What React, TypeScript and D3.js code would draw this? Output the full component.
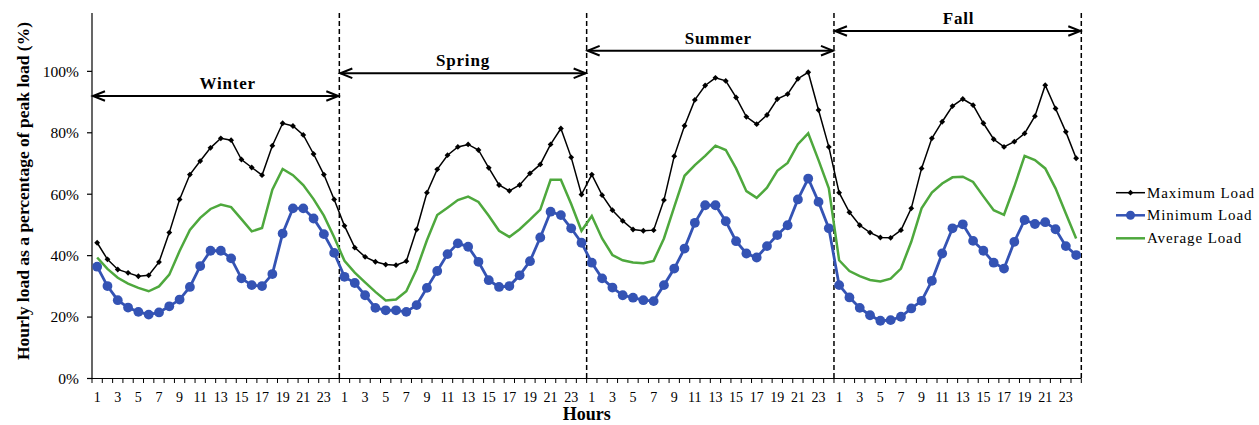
import React from "react";
import * as d3 from "d3";

// Seasons and hour-of-day categories
const SEASONS = ["Winter", "Spring", "Summer", "Fall"];
const HOUR_LABELS = [1, 2, 3, 4, 5, 6, 7, 8, 9, 10, 11, 12, 13, 14, 15, 16, 17, 18, 19, 20, 21, 22, 23, 24];
const Y_TICKS = [0, 20, 40, 60, 80, 100];

// Hourly load as % of peak — maximum
const MAX_WINTER = [44.2, 38.8, 35.5, 34.4, 33.3, 33.6, 37.9, 47.5, 58.3, 66.4, 70.8, 75.1, 78.2, 77.6, 71.3, 68.7, 66.2, 75.8, 83.1, 82.2, 79.3, 73.1, 66.4, 58.3];
const MAX_SPRING = [49.7, 42.6, 39.6, 38.0, 37.1, 36.9, 38.2, 48.5, 60.5, 68.1, 72.7, 75.4, 76.2, 74.4, 68.6, 63.0, 61.1, 63.0, 66.8, 69.7, 76.2, 81.4, 72.0, 59.9];
const MAX_SUMMER = [66.4, 59.7, 54.8, 51.3, 48.5, 48.1, 48.3, 58.1, 72.4, 82.3, 90.7, 95.4, 97.9, 96.9, 91.5, 85.2, 82.8, 85.8, 91.0, 92.6, 97.6, 99.7, 87.4, 75.4];
const MAX_FALL = [60.5, 54.1, 49.9, 47.5, 45.9, 45.8, 48.3, 55.4, 68.4, 78.2, 83.6, 88.7, 91.0, 89.0, 83.1, 77.9, 75.4, 77.1, 79.8, 85.4, 95.5, 87.9, 80.3, 71.7];

// Minimum
const MIN_WINTER = [36.4, 30.1, 25.5, 23.1, 21.7, 20.8, 21.5, 23.5, 25.7, 29.8, 36.6, 41.6, 41.6, 39.1, 32.6, 30.4, 30.1, 34.0, 47.2, 55.4, 55.4, 52.1, 47.0, 40.9];
const MIN_SPRING = [33.1, 31.1, 27.1, 23.0, 22.2, 22.2, 21.7, 23.9, 29.5, 35.0, 40.5, 44.0, 42.9, 38.0, 32.0, 29.8, 30.1, 33.6, 38.2, 45.9, 54.3, 53.2, 48.9, 44.2];
const MIN_SUMMER = [37.7, 32.6, 29.6, 27.1, 26.3, 25.5, 25.2, 30.4, 35.8, 42.3, 50.7, 56.4, 56.4, 51.2, 44.7, 40.7, 39.4, 43.1, 46.7, 49.9, 58.3, 65.1, 57.5, 48.9];
const MIN_FALL = [30.4, 26.4, 23.0, 20.6, 18.8, 19.0, 20.1, 22.8, 25.3, 31.8, 40.7, 48.9, 50.2, 44.8, 41.6, 37.7, 35.8, 44.5, 51.6, 50.3, 50.9, 48.6, 43.1, 40.2];

// Average
const AVG_WINTER = [39.4, 35.7, 32.8, 30.9, 29.5, 28.4, 30.0, 33.8, 41.5, 48.4, 52.3, 55.2, 56.6, 55.8, 51.9, 47.9, 49.0, 61.5, 68.2, 66.2, 63.0, 58.4, 53.0, 46.0];
const AVG_SPRING = [38.3, 34.5, 31.3, 28.2, 25.4, 25.7, 28.4, 35.6, 45.0, 53.2, 55.6, 58.1, 59.2, 57.5, 53.0, 48.1, 46.1, 48.6, 51.7, 55.0, 64.7, 64.7, 56.8, 48.1];
const AVG_SUMMER = [52.9, 45.6, 40.2, 38.5, 37.8, 37.5, 38.3, 45.6, 55.9, 66.0, 69.5, 72.5, 75.8, 74.4, 68.4, 61.0, 58.8, 62.1, 67.6, 70.2, 76.3, 79.8, 71.1, 61.9];
const AVG_FALL = [38.5, 35.0, 33.3, 32.1, 31.6, 32.5, 35.8, 44.5, 55.4, 60.5, 63.5, 65.5, 65.7, 64.0, 59.3, 54.8, 53.3, 62.5, 72.5, 71.1, 68.4, 61.9, 53.7, 45.6];

const MAX_LOAD = [...MAX_WINTER, ...MAX_SPRING, ...MAX_SUMMER, ...MAX_FALL];
const MIN_LOAD = [...MIN_WINTER, ...MIN_SPRING, ...MIN_SUMMER, ...MIN_FALL];
const AVG_LOAD = [...AVG_WINTER, ...AVG_SPRING, ...AVG_SUMMER, ...AVG_FALL];

const W = 1259;
const H = 425;
const LEFT = 92;
const RIGHT = 1081.3;
const TOP = 13;
const BOTTOM = 378.5;

const FONT = "'Times New Roman', 'Liberation Serif', serif";
const BLACK = "#000000";
const BLUE = "#3453B4";
const GREEN = "#4EA83D";

export default function App() {
  const n = SEASONS.length * HOUR_LABELS.length;
  const idx = d3.range(n);
  const x = d3.scaleBand<number>().domain(idx).range([LEFT, RIGHT]).padding(0);
  const bw = x.bandwidth();
  const cx = (i: number) => (x(i) as number) + bw / 2;
  const y = d3.scaleLinear().domain([0, 119]).range([BOTTOM, TOP]);

  const line = d3
    .line<number>()
    .x((_, i) => cx(i))
    .y((d) => y(d));

  const diamond = d3.symbol(d3.symbolSquare, 17)() as string;
  const seasonWidth = bw * HOUR_LABELS.length;
  const boundaries = SEASONS.map((_, s) => LEFT + (s + 1) * seasonWidth);
  const arrowY = [96, 73.3, 50.7, 31];
  const labelDx = [12, 0, 8, 1];

  const legend = [
    { name: "Maximum Load", color: BLACK, kind: "diamond", width: 1.5 },
    { name: "Minimum Load", color: BLUE, kind: "circle", width: 2.5 },
    { name: "Average Load", color: GREEN, kind: "none", width: 2.5 },
  ];
  const legendY = [192.7, 215.3, 238.3];

  return (
    <svg
      width={W}
      height={H}
      style={{ position: "absolute", left: 0, top: 0, background: "#fff" }}
      fontFamily={FONT}
    >
      {/* y axis */}
      <line x1={LEFT} x2={LEFT} y1={TOP} y2={BOTTOM} stroke="#000" strokeWidth={1.2} />
      {Y_TICKS.map((t) => (
        <g key={t}>
          <line x1={LEFT - 5} x2={LEFT} y1={y(t)} y2={y(t)} stroke="#000" strokeWidth={1.2} />
          <text x={79} y={y(t)} dy="0.35em" textAnchor="end" fontSize={15.5}>
            {t}%
          </text>
        </g>
      ))}
      <text
        transform={`translate(28.5, 191) rotate(-90)`}
        textAnchor="middle"
        fontSize={17.5}
        fontWeight="bold"
      >
        Hourly load as a percentage of peak load (%)
      </text>

      {/* x axis */}
      <line x1={LEFT} x2={RIGHT} y1={BOTTOM} y2={BOTTOM} stroke="#000" strokeWidth={1.2} />
      {d3.range(n + 1).map((k) => (
        <line
          key={k}
          x1={LEFT + k * bw}
          x2={LEFT + k * bw}
          y1={BOTTOM}
          y2={BOTTOM + 4.5}
          stroke="#000"
          strokeWidth={1}
        />
      ))}
      {idx
        .filter((i) => HOUR_LABELS[i % 24] % 2 === 1)
        .map((i) => (
          <text key={i} x={cx(i)} y={402} textAnchor="middle" fontSize={14}>
            {HOUR_LABELS[i % 24]}
          </text>
        ))}
      <text x={(LEFT + RIGHT) / 2} y={420} textAnchor="middle" fontSize={18} fontWeight="bold">
        Hours
      </text>

      {/* season separators */}
      {boundaries.map((bx, s) => (
        <line
          key={s}
          x1={bx}
          x2={bx}
          y1={TOP}
          y2={BOTTOM}
          stroke="#000"
          strokeWidth={1.5}
          strokeDasharray="5 3"
        />
      ))}

      {/* season spans */}
      {SEASONS.map((name, s) => {
        const x0 = LEFT + s * seasonWidth + 1;
        const x1 = LEFT + (s + 1) * seasonWidth - 1;
        const ay = arrowY[s];
        return (
          <g key={name} stroke="#000" strokeWidth={2} fill="none">
            <line x1={x0} x2={x1} y1={ay} y2={ay} />
            <path d={`M${x0 + 12},${ay - 4.8}L${x0},${ay}L${x0 + 12},${ay + 4.8}`} />
            <path d={`M${x1 - 12},${ay - 4.8}L${x1},${ay}L${x1 - 12},${ay + 4.8}`} />
            <text
              x={(x0 + x1) / 2 + labelDx[s]}
              y={ay - 7}
              textAnchor="middle"
              fontSize={17}
              fontWeight="bold"
              letterSpacing={0.8}
              fill="#000"
              stroke="none"
            >
              {name}
            </text>
          </g>
        );
      })}

      {/* maximum load */}
      <path d={line(MAX_LOAD) as string} fill="none" stroke={BLACK} strokeWidth={1.5} />
      {MAX_LOAD.map((v, i) => (
        <path key={i} d={diamond} transform={`translate(${cx(i)},${y(v)}) rotate(45)`} fill={BLACK} />
      ))}

      {/* minimum load */}
      <path d={line(MIN_LOAD) as string} fill="none" stroke={BLUE} strokeWidth={2.8} />
      {MIN_LOAD.map((v, i) => (
        <circle key={i} cx={cx(i)} cy={y(v)} r={4.9} fill={BLUE} />
      ))}

      {/* average load */}
      <path d={line(AVG_LOAD) as string} fill="none" stroke={GREEN} strokeWidth={2.5} />

      {/* legend */}
      {legend.map((l, k) => {
        const ly = legendY[k];
        return (
          <g key={l.name}>
            <line x1={1116} x2={1145} y1={ly} y2={ly} stroke={l.color} strokeWidth={l.width} />
            {l.kind === "diamond" && (
              <path d={diamond} transform={`translate(1130.5,${ly}) rotate(45)`} fill={l.color} />
            )}
            {l.kind === "circle" && <circle cx={1130.5} cy={ly} r={4.5} fill={l.color} />}
            <text x={1147} y={ly} dy="0.33em" fontSize={15} letterSpacing={0.9}>
              {l.name}
            </text>
          </g>
        );
      })}
    </svg>
  );
}
